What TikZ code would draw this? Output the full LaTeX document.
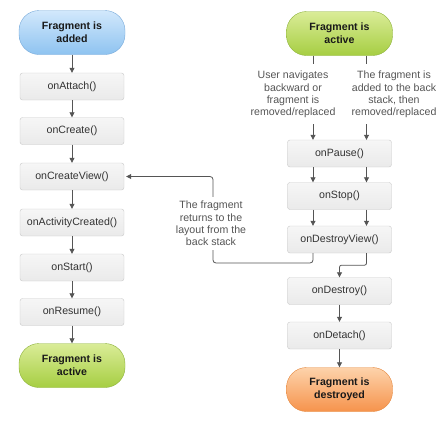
\documentclass[tikz,border=0pt]{standalone}
\usepackage{fontspec}
\setmainfont{Liberation Sans}
\usepackage{tikz}
\usetikzlibrary{arrows.meta}
\definecolor{boxline}{HTML}{C8C8C8}
\definecolor{boxtop}{HTML}{F6F6F6}
\definecolor{boxbottom}{HTML}{EAEAEA}
\definecolor{boxtext}{HTML}{333333}
\definecolor{notegray}{HTML}{555555}
\definecolor{arrowgray}{HTML}{555555}
\definecolor{bluetop}{HTML}{D2E8FC}
\definecolor{bluebottom}{HTML}{8EC3F0}
\definecolor{blueline}{HTML}{78AADA}
\definecolor{greentop}{HTML}{DAEC98}
\definecolor{greenbottom}{HTML}{A6CE42}
\definecolor{greenline}{HTML}{8DB23A}
\definecolor{orangetop}{HTML}{FDD3AB}
\definecolor{orangebottom}{HTML}{F6934C}
\definecolor{orangeline}{HTML}{E4873D}
\tikzset{
  callback/.style={draw=boxline, top color=boxtop, bottom color=boxbottom,
    rounded corners=2.5pt, minimum width=104pt, minimum height=27pt,
    inner sep=0pt, text=boxtext},
  state/.style={rounded corners=20pt, minimum width=106pt, minimum height=44pt,
    align=center, text=black!90, inner sep=0pt,
    font=\fontsize{10.6}{13}\selectfont\bfseries},
  added/.style={state, draw=blueline, top color=bluetop, bottom color=bluebottom},
  active/.style={state, draw=greenline, top color=greentop, bottom color=greenbottom},
  destroyed/.style={state, draw=orangeline, top color=orangetop, bottom color=orangebottom},
  flow/.style={draw=arrowgray, line width=0.8pt, -{Triangle[length=5pt,width=5pt]}},
  link/.style={draw=arrowgray, line width=0.8pt},
  note/.style={align=center, text=notegray, inner sep=2pt}
}

\begin{document}
\begin{tikzpicture}[x=1pt, y=-1pt, font=\fontsize{10.6}{12.3}\selectfont]
  \useasboundingbox (0,0) rectangle (447,424);

  % left column: fragment being added
  \node[added] (fragAdded) at (72,32.5) {Fragment is\\added};
  \node[callback] (onAttach) at (72,86.5) {onAttach()};
  \node[callback] (onCreate) at (72,131) {onCreate()};
  \node[callback] (onCreateView) at (72,176.5) {onCreateView()};
  \node[callback] (onActivityCreated) at (72,222.5) {onActivityCreated()};
  \node[callback] (onStart) at (72,267.5) {onStart()};
  \node[callback] (onResume) at (72,312) {onResume()};
  \node[active] (fragActiveL) at (72,365.5) {Fragment is\\active};

  \draw[flow] (fragAdded) -- (onAttach);
  \draw[flow] (onAttach) -- (onCreate);
  \draw[flow] (onCreate) -- (onCreateView);
  \draw[flow] (onCreateView) -- (onActivityCreated);
  \draw[flow] (onActivityCreated) -- (onStart);
  \draw[flow] (onStart) -- (onResume);
  \draw[flow] (onResume) -- (fragActiveL);

  % right column: fragment being removed
  \node[active] (fragActiveR) at (339.5,33.5) {Fragment is\\active};
  \node[note] (userNav) at (293,94.5) {User navigates\\backward or\\fragment is\\removed/replaced};
  \node[note] (backStack) at (394,94.5) {The fragment is\\added to the back\\stack, then\\removed/replaced};
  \node[callback] (onPause) at (339.5,153.5) {onPause()};
  \node[callback] (onStop) at (339.5,196) {onStop()};
  \node[callback] (onDestroyView) at (339.5,239.5) {onDestroyView()};
  \node[callback] (onDestroy) at (339.5,291) {onDestroy()};
  \node[callback] (onDetach) at (339.5,335.5) {onDetach()};
  \node[destroyed] (fragDestroyed) at (339.5,389.5) {Fragment is\\destroyed};

  % the two paths
  \coordinate (pathL) at (313,0);
  \coordinate (pathR) at (366.5,0);
  \draw[link] (fragActiveR.south -| pathL) -- ++(0,8);
  \draw[link] (fragActiveR.south -| pathR) -- ++(0,8);
  \draw[flow] (userNav.south -| pathL) ++(0,4) -- (onPause.north -| pathL);
  \draw[flow] (backStack.south -| pathR) ++(0,4) -- (onPause.north -| pathR);
  \draw[flow] (onPause.south -| pathL) -- (onStop.north -| pathL);
  \draw[flow] (onPause.south -| pathR) -- (onStop.north -| pathR);
  \draw[flow] (onStop.south -| pathL) -- (onDestroyView.north -| pathL);
  \draw[flow] (onStop.south -| pathR) -- (onDestroyView.north -| pathR);

  % back stack loop
  \coordinate (loopTurn) at (213,263);
  \draw[flow, rounded corners=3pt, shorten >=2pt]
    (onDestroyView.south -| pathL) |- (loopTurn) |- (onCreateView.east);
  \node[note, fill=white, inner sep=4pt] (returnNote) at (211,223.5) {The fragment\\returns to the\\layout from the\\back stack};
  \draw[flow, rounded corners=2pt]
    (onDestroyView.south -| pathR) -- ++(0,12) -| (onDestroy.north);

  \draw[flow] (onDestroy) -- (onDetach);
  \draw[flow] (onDetach) -- (fragDestroyed);
\end{tikzpicture}
\end{document}
